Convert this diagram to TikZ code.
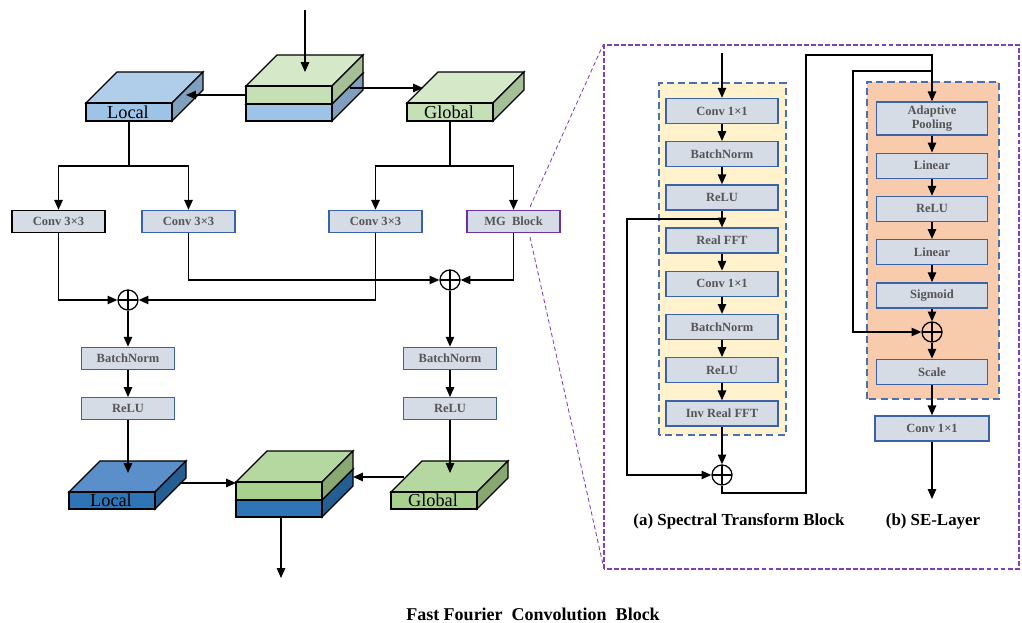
\documentclass[tikz,border=0pt]{standalone}
\usepackage{fontspec}
\setmainfont{Liberation Serif}
\usetikzlibrary{positioning, arrows.meta, calc}

\definecolor{boxfill}{HTML}{D6DCE5}
\definecolor{boxline}{HTML}{3A62A8}
\definecolor{mgline}{HTML}{7030A0}
\definecolor{txtgray}{HTML}{555555}
\definecolor{yelfill}{HTML}{FFF2CC}
\definecolor{orgfill}{HTML}{F8CBAD}
\definecolor{dashblue}{HTML}{4A6FB0}
\definecolor{panelline}{HTML}{7F3FBF}
\definecolor{lbT}{HTML}{B0CDEA}
\definecolor{lbF}{HTML}{9DC3E6}
\definecolor{lbS}{HTML}{7F9FBF}
\definecolor{lgT}{HTML}{D5E8C8}
\definecolor{lgF}{HTML}{C5E0B4}
\definecolor{lgS}{HTML}{A5BF96}
\definecolor{dbT}{HTML}{5B8FC9}
\definecolor{dbF}{HTML}{2E75B6}
\definecolor{dbS}{HTML}{255E93}
\definecolor{mgT}{HTML}{B5D7A0}
\definecolor{mgF}{HTML}{A9D18E}
\definecolor{mgS}{HTML}{88A872}

\begin{document}
\begin{tikzpicture}[x=0.025cm, y=0.025cm, line width=0.9pt,
		>={Triangle[length=7pt,width=6pt]}, node distance=0.42cm,
		opbox/.style={draw=boxline, line width=1pt, fill=boxfill, text=txtgray,
			font=\fontsize{8.9}{10}\selectfont\bfseries, inner sep=0pt,
			minimum height=0.55cm, minimum width=2.325cm},
		stb/.style={opbox, minimum width=2.8cm, minimum height=0.625cm},
		seb/.style={opbox, minimum width=2.775cm, minimum height=0.625cm},
		oplus/.style={draw, circle, minimum size=0.5cm, inner sep=0pt,
			path picture={\draw (path picture bounding box.north) -- (path picture bounding box.south)
				(path picture bounding box.west) -- (path picture bounding box.east);}},
		dashbox/.style={draw=dashblue, line width=1pt, dash pattern=on 5pt off 3pt},
		panel/.style={draw=panelline, line width=1pt, dash pattern=on 3.5pt off 1.5pt},
		zoomline/.style={draw=panelline, line width=0.6pt, dash pattern=on 3pt off 2pt},
		blocktxt/.style={font=\fontsize{13}{13}\selectfont, inner sep=0pt},
		captxt/.style={font=\fontsize{12}{12}\selectfont\bfseries},
		pics/slab/.style n args={4}{code={
				\draw[fill=#2] (0,#4) -- ++(31,31) -- ++(86,0) -- ++(-31,-31) -- cycle;
				\draw[fill=#3] (86,0) -- ++(31,31) -- ++(0,#4) -- ++(-31,-31) -- cycle;
				\draw[fill=#1] (0,0) rectangle (86,#4);
			}}]

		\useasboundingbox (0,0) rectangle (1022,623);

		% input split
		\pic at (246,502) {slab={lbF}{lbT}{lbS}{17}};
		\pic at (246,519) {slab={lgF}{lgT}{lgS}{18}};
		\pic at (86,502) {slab={lbF}{lbT}{lbS}{18}};
		\node[blocktxt] (loc-1) at (128,511) {Local};
		\pic at (407,502) {slab={lgF}{lgT}{lgS}{18}};
		\node[blocktxt] (glo-1) at (449,511) {Global};

		\coordinate (in-0) at (305,613);
		\coordinate (in-1) at (305,551);
		\coordinate (in-l) at (246,528);
		\coordinate (loc-in) at (186,528);
		\coordinate (in-g) at (350,535);
		\coordinate (glo-in) at (423,535);
		\draw[->] (in-0) -- (in-1);
		\draw[->] (in-l) -- (loc-in);
		\draw[->] (in-g) -- (glo-in);

		% zoom lines to the right panel
		\coordinate (zm-1) at (530,416);
		\coordinate (zm-2) at (530,386);
		\coordinate (pn-nw) at (603,578);
		\coordinate (pn-sw) at (604,54);
		\draw[zoomline] (zm-1) -- (pn-nw);
		\draw[zoomline] (zm-2) -- (pn-sw);

		% conv row
		\node[opbox, draw=black] (cv-1) at (58.5,401.5) {Conv 3×3};
		\node[opbox] (cv-2) at (188.5,401.5) {Conv 3×3};
		\node[opbox] (cv-3) at (375.5,401.5) {Conv 3×3};
		\node[opbox, draw=mgline] (mg) at (513.5,401.5) {MG~~Block};

		\coordinate (loc-out) at (129,502);
		\coordinate (loc-split) at (129,457);
		\coordinate (glo-out) at (450,502);
		\coordinate (glo-split) at (450,457);
		\draw (loc-out) -- (loc-split);
		\draw[->] (loc-split) -| (cv-1);
		\draw[->] (loc-split) -| (cv-2);
		\draw (glo-out) -- (glo-split);
		\draw[->] (glo-split) -| (cv-3);
		\draw[->] (glo-split) -| (mg);

		\node[oplus] (sum-1) at (128,323) {};
		\node[oplus] (sum-2) at (450,343) {};
		\draw[->] (cv-1) |- (sum-1);
		\draw[->] (cv-3) |- (sum-1);
		\draw[->] (cv-2) |- (sum-2);
		\draw[->] (mg) |- (sum-2);

		\node[opbox, below=0.9cm of sum-1] (bn-1) {BatchNorm};
		\node[opbox, below=0.675cm of bn-1] (re-1) {ReLU};
		\node[opbox] (bn-2) at (sum-2 |- bn-1) {BatchNorm};
		\node[opbox] (re-2) at (sum-2 |- re-1) {ReLU};
		\draw[->] (sum-1) -- (bn-1);
		\draw[->] (bn-1) -- (re-1);
		\draw[->] (sum-2) -- (bn-2);
		\draw[->] (bn-2) -- (re-2);

		% output merge
		\pic at (69,114) {slab={dbF}{dbT}{dbS}{17}};
		\node[blocktxt] (loc-2) at (111,122.5) {Local};
		\pic at (236,106) {slab={dbF}{dbT}{dbS}{17}};
		\pic at (236,123) {slab={mgF}{mgT}{mgS}{18}};
		\pic at (391,114) {slab={mgF}{mgT}{mgS}{17}};
		\node[blocktxt] (glo-2) at (433,122.5) {Global};

		\coordinate (loc-2-in) at (128,150);
		\coordinate (glo-2-in) at (450,150);
		\coordinate (loc-2-out) at (180,140);
		\coordinate (mix-l) at (236,140);
		\coordinate (glo-2-out) at (404,146);
		\coordinate (mix-r) at (353,146);
		\coordinate (mix-out) at (281,106);
		\coordinate (out) at (281,45);
		\draw[->] (re-1) -- (loc-2-in);
		\draw[->] (re-2) -- (glo-2-in);
		\draw[->] (loc-2-out) -- (mix-l);
		\draw[->] (glo-2-out) -- (mix-r);
		\draw[->] (mix-out) -- (out);

		\node[font=\fontsize{12.8}{13}\selectfont\bfseries] (title) at (533,9) {Fast Fourier~ Convolution~ Block};

		% right panel
		\draw[panel] (604,54) rectangle (1019,578);

		% (a) spectral transform
		\draw[dashbox, fill=yelfill] (659,188) rectangle (786,540);
		\node[stb] (st-1) at (722,512) {Conv 1×1};
		\node[stb, below=of st-1] (st-2) {BatchNorm};
		\node[stb, below=of st-2] (st-3) {ReLU};
		\node[stb, below=of st-3] (st-4) {Real FFT};
		\node[stb, below=of st-4] (st-5) {Conv 1×1};
		\node[stb, below=of st-5] (st-6) {BatchNorm};
		\node[stb, below=of st-6] (st-7) {ReLU};
		\node[stb, below=of st-7] (st-8) {Inv Real FFT};
		\foreach \i/\j in {1/2, 2/3, 3/4, 4/5, 5/6, 6/7, 7/8}
			\draw[->] (st-\i) -- (st-\j);

		\coordinate (st-in) at (722,570);
		\draw[->] (st-in) -- (st-1);
		\node[oplus] (st-sum) at (722,148) {};
		\draw[->] (st-8) -- (st-sum);
		\coordinate (st-skip) at ($(st-3.south)!.5!(st-4.north)$);
		\coordinate (st-left) at (627,148);
		\draw[->] (st-skip) -| (st-left) -- (st-sum);

		% (b) SE layer
		\draw[dashbox, fill=orgfill] (867,224) rectangle (999,541);
		\node[seb, minimum height=0.825cm, align=center] (se-1) at (932,504.5) {Adaptive\\Pooling};
		\node[seb, below=of se-1] (se-2) {Linear};
		\node[seb, below=of se-2] (se-3) {ReLU};
		\node[seb, below=of se-3] (se-4) {Linear};
		\node[seb, below=of se-4] (se-5) {Sigmoid};
		\node[oplus] (se-sum) at (932,291) {};
		\node[seb, below=0.4cm of se-sum] (se-6) {Scale};
		\node[seb, minimum width=2.85cm] (se-7) at (932,194.5) {Conv 1×1};
		\coordinate (se-out) at (932,124);
		\foreach \i/\j in {1/2, 2/3, 3/4, 4/5, 5/sum, sum/6, 6/7}
			\draw[->] (se-\i) -- (se-\j);
		\draw[->] (se-7) -- (se-out);

		\coordinate (st-low) at (806,130);
		\coordinate (se-top) at (932,568);
		\draw[->] (st-sum) |- (st-low) |- (se-top) -- (se-1);
		\coordinate (se-br) at (932,552);
		\coordinate (se-left) at (853,291);
		\draw[->] (se-br) -| (se-left) -- (se-sum);

		\node[captxt] (cap-a) at (739,102) {(a) Spectral Transform Block};
		\node[captxt] (cap-b) at (933,102) {(b) SE-Layer};
\end{tikzpicture}
\end{document}
